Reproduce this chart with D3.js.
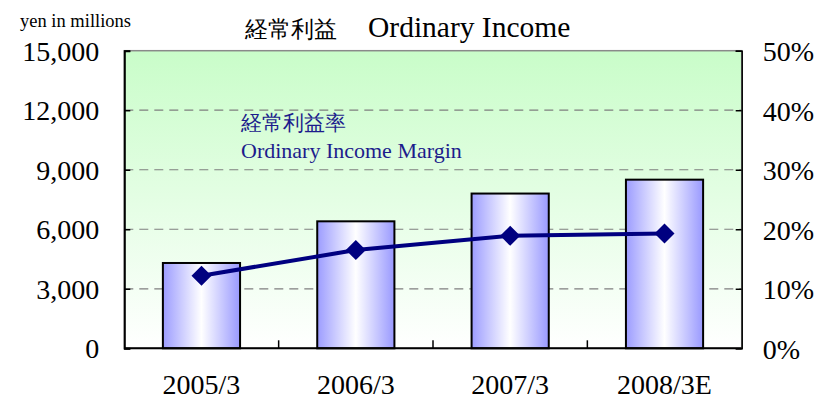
<!DOCTYPE html>
<html>
<head>
<meta charset="utf-8">
<script src="https://cdn.jsdelivr.net/npm/d3@7/dist/d3.min.js"></script>
<style>
  html, body { margin: 0; padding: 0; background: #ffffff; }
  svg { display: block; }
  text, tspan { font-family: "Liberation Serif", "DejaVu Serif", serif; }
  .cjk { font-family: "Noto Sans CJK JP", sans-serif; }
</style>
</head>
<body>
<script>
// ---- data ----
const categories = ["2005/3", "2006/3", "2007/3", "2008/3E"];
const ordinaryIncome = [4300, 6400, 7800, 8500];       // yen in millions
const incomeMargin = [12.2, 16.5, 18.9, 19.3];         // %
const leftTicks = [0, 3000, 6000, 9000, 12000, 15000];
const leftTickLabels = ["0", "3,000", "6,000", "9,000", "12,000", "15,000"];
const rightTicks = [0, 10, 20, 30, 40, 50];
const rightTickLabels = ["0%", "10%", "20%", "30%", "40%", "50%"];
const titleJa = "経常利益";
const titleEn = "Ordinary Income";
const unitLabel = "yen in millions";
const marginLabelJa = "経常利益率";
const marginLabelEn = "Ordinary Income Margin";

// ---- layout ----
const W = 823, H = 402;
const plot = { left: 124.3, right: 741.7, top: 50.7, bottom: 348.3 };
const SERIF = "'Liberation Serif', 'DejaVu Serif', serif";
const CJK = "'Noto Sans CJK JP', sans-serif";

const svg = d3.select("body").append("svg").attr("width", W).attr("height", H);
const defs = svg.append("defs");

const bg = defs.append("linearGradient").attr("id", "bgGrad")
  .attr("x1", 0).attr("y1", 0).attr("x2", 0).attr("y2", 1);
bg.append("stop").attr("offset", "0%").attr("stop-color", "#c9fdc9");
bg.append("stop").attr("offset", "100%").attr("stop-color", "#ffffff");

const barGrad = defs.append("linearGradient").attr("id", "barGrad")
  .attr("x1", 0).attr("y1", 0).attr("x2", 1).attr("y2", 0);
barGrad.append("stop").attr("offset", "0%").attr("stop-color", "#9c9cff");
barGrad.append("stop").attr("offset", "50%").attr("stop-color", "#ffffff");
barGrad.append("stop").attr("offset", "100%").attr("stop-color", "#9999ff");

// scales
const x = d3.scaleBand().domain(categories)
  .range([plot.left, plot.right]).paddingInner(0.5).paddingOuter(0.25);
const y = d3.scaleLinear().domain([0, 15000]).range([plot.bottom, plot.top]);
const y2 = d3.scaleLinear().domain([0, 50]).range([plot.bottom, plot.top]);

// plot background
svg.append("rect")
  .attr("x", plot.left).attr("y", plot.top)
  .attr("width", plot.right - plot.left).attr("height", plot.bottom - plot.top)
  .attr("fill", "url(#bgGrad)")
  .attr("stroke", "#8a8a8a").attr("stroke-width", 1.5);

// grid lines
svg.append("g").selectAll("line")
  .data(leftTicks.filter(d => d > 0 && d < 15000))
  .join("line")
  .attr("x1", plot.left).attr("x2", plot.right)
  .attr("y1", d => y(d)).attr("y2", d => y(d))
  .attr("stroke", "#7f7f7f").attr("stroke-width", 1.2)
  .attr("stroke-dasharray", "9,6");

// bars
svg.append("g").selectAll("rect")
  .data(categories)
  .join("rect")
  .attr("x", d => x(d))
  .attr("y", (d, i) => y(ordinaryIncome[i]))
  .attr("width", x.bandwidth())
  .attr("height", (d, i) => y(0) - y(ordinaryIncome[i]))
  .attr("fill", "url(#barGrad)")
  .attr("stroke", "#000000").attr("stroke-width", 2);

// axes
const fontAxis = 28;
const gL = svg.append("g").attr("transform", `translate(${plot.left},0)`)
  .call(d3.axisLeft(y).tickValues(leftTicks).tickSize(-6).tickPadding(25)
    .tickFormat((d, i) => leftTickLabels[i]));
gL.select(".domain").attr("stroke", "#000").attr("stroke-width", 2);
gL.selectAll(".tick line").attr("stroke", "#000").attr("stroke-width", 1.5);
gL.selectAll(".tick text").attr("font-size", fontAxis)
  .attr("font-family", SERIF).attr("fill", "#000").attr("dy", "0.34em");

const gR = svg.append("g").attr("transform", `translate(${plot.right},0)`)
  .call(d3.axisRight(y2).tickValues(rightTicks).tickSize(-6).tickPadding(21)
    .tickFormat((d, i) => rightTickLabels[i]));
gR.select(".domain").attr("stroke", "#000").attr("stroke-width", 1.5);
gR.selectAll(".tick line").attr("stroke", "#000").attr("stroke-width", 1.5);
gR.selectAll(".tick text").attr("font-size", fontAxis)
  .attr("font-family", SERIF).attr("fill", "#000").attr("dy", "0.36em");

const xBound = d3.scaleLinear().domain([0, categories.length])
  .range([plot.left, plot.right]);
const gB = svg.append("g").attr("transform", `translate(0,${plot.bottom})`);
gB.append("line").attr("x1", plot.left).attr("x2", plot.right)
  .attr("y1", 0).attr("y2", 0).attr("stroke", "#000").attr("stroke-width", 2);
gB.selectAll("line.tk").data(d3.range(1, categories.length)).join("line")
  .attr("class", "tk")
  .attr("x1", d => xBound(d)).attr("x2", d => xBound(d))
  .attr("y1", 0).attr("y2", -8).attr("stroke", "#000").attr("stroke-width", 1.5);
gB.selectAll("text").data(categories).join("text")
  .attr("x", d => x(d) + x.bandwidth() / 2)
  .attr("y", 46)
  .attr("text-anchor", "middle")
  .attr("font-family", SERIF)
  .attr("font-size", fontAxis)
  .attr("fill", "#000")
  .text(d => d);

// margin line
const line = d3.line()
  .x((d, i) => x(categories[i]) + x.bandwidth() / 2)
  .y(d => y2(d));
svg.append("path").datum(incomeMargin)
  .attr("d", line)
  .attr("fill", "none").attr("stroke", "#000080").attr("stroke-width", 4)
  .attr("stroke-linejoin", "round");

svg.append("g").selectAll("path")
  .data(incomeMargin)
  .join("path")
  .attr("transform", (d, i) =>
    `translate(${x(categories[i]) + x.bandwidth() / 2},${y2(d)}) rotate(45)`)
  .attr("d", d3.symbol().type(d3.symbolSquare).size(200))
  .attr("fill", "#000080");

// titles
svg.append("text").attr("x", 245).attr("y", 37).attr("fill", "#000")
  .attr("font-family", CJK).attr("font-size", 23).text(titleJa);
svg.append("text").attr("x", 368).attr("y", 37).attr("fill", "#000")
  .attr("font-family", SERIF).attr("font-size", 29.5).text(titleEn);

svg.append("text").attr("x", 20).attr("y", 26.5).attr("font-size", 18.5)
  .attr("font-family", SERIF).attr("fill", "#000").text(unitLabel);

svg.append("text").attr("x", 241).attr("y", 130)
  .attr("font-family", CJK)
  .attr("font-size", 21).attr("fill", "#1c1c8c").text(marginLabelJa);
svg.append("text").attr("x", 241).attr("y", 158)
  .attr("font-family", SERIF)
  .attr("font-size", 22).attr("fill", "#1c1c8c").text(marginLabelEn);
</script>
</body>
</html>
